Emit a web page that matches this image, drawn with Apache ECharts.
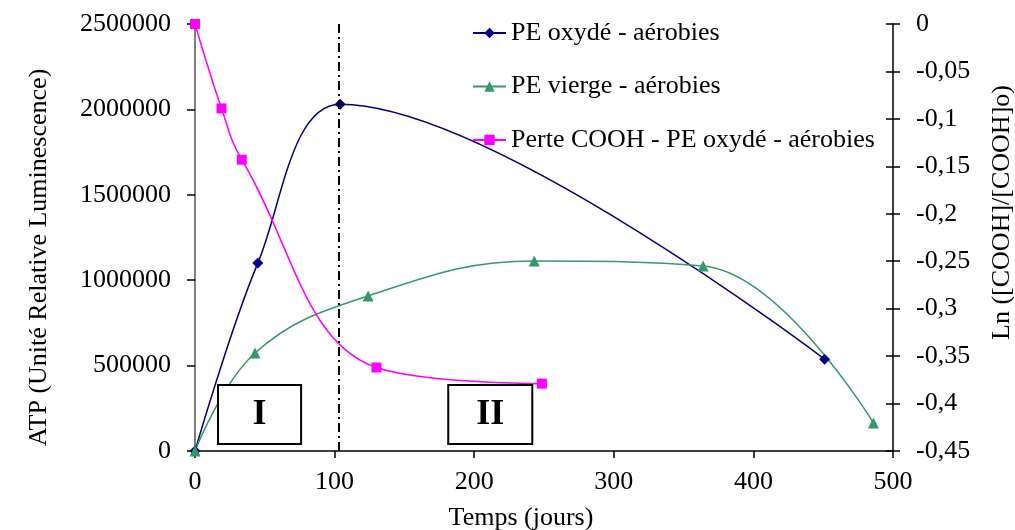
<!DOCTYPE html>
<html>
<head>
<meta charset="utf-8">
<script src="https://cdn.jsdelivr.net/npm/echarts@6/dist/echarts.min.js"></script>
<style>
html,body{margin:0;padding:0;background:#fff;overflow:hidden;width:1015px;height:530px;}
#c{width:1015px;height:530px;}
</style>
</head>
<body>
<div id="c"></div>
<script>
// ---- data ----
var seriesNames = ['PE oxydé - aérobies', 'PE vierge - aérobies', 'Perte COOH - PE oxydé - aérobies'];
var oxydeX = [0, 45, 104, 451];
var oxydeY = [0, 1100000, 2030000, 537000];
var viergeX = [0, 43, 124, 243, 364, 486];
var viergeY = [0, 574000, 908000, 1112000, 1083000, 164000];
var coohX = [0, 19, 33.5, 130, 248.5];
var coohY = [0, -0.089, -0.143, -0.362, -0.379];
var xTicks = [0, 100, 200, 300, 400, 500];
var leftTicks = [0, 500000, 1000000, 1500000, 2000000, 2500000];
var rightTicks = [-0.45, -0.4, -0.35, -0.3, -0.25, -0.2, -0.15, -0.1, -0.05, 0];
var phaseLineX = 103;
var phaseBoxes = [
  {label: 'I', x0: 16.5, x1: 76, y0: 41000, y1: 386000},
  {label: 'II', x0: 181.4, x1: 241.6, y0: 41000, y1: 386000}
];
var xName = 'Temps (jours)';
var leftName = 'ATP (Unité Relative Luminescence)';
var rightName = 'Ln ([COOH]/[COOH]o)';

function zip(xs, ys) { return xs.map(function (x, i) { return [x, ys[i]]; }); }

var FONT = '"Liberation Serif", "Times New Roman", serif';
var FS = 26;
var chart = echarts.init(document.getElementById('c'), null, {renderer: 'canvas', width: 1015, height: 530});

var option = {
  backgroundColor: '#fff',
  animation: false,
  textStyle: {fontFamily: FONT},
  grid: {left: 195, right: 122, top: 24, bottom: 79, containLabel: false, outerBoundsMode: 'none'},
  legend: {
    orient: 'vertical',
    left: 467, top: 15, padding: 5,
    itemWidth: 33, itemHeight: 13, itemGap: 27.5,
    textStyle: {fontFamily: FONT, fontSize: FS, color: '#000', lineHeight: 26},
    data: seriesNames
  },
  xAxis: {
    type: 'value', min: xTicks[0], max: xTicks[xTicks.length - 1], interval: xTicks[1] - xTicks[0],
    name: xName, nameLocation: 'middle', nameGap: 54,
    nameTextStyle: {fontFamily: FONT, fontSize: FS, color: '#000', padding: [0, 46, 0, 0]},
    axisLine: {onZero: false, lineStyle: {color: '#000', width: 1.5}},
    axisTick: {length: 7, lineStyle: {color: '#000', width: 1.5}},
    axisLabel: {fontFamily: FONT, fontSize: FS, color: '#000', margin: 18},
    splitLine: {show: false}
  },
  yAxis: [
    {
      type: 'value', position: 'left', min: leftTicks[0], max: leftTicks[leftTicks.length - 1], interval: leftTicks[1] - leftTicks[0],
      name: leftName, nameLocation: 'middle', nameGap: 143, nameRotate: 90,
      nameTextStyle: {fontFamily: FONT, fontSize: FS, color: '#000', padding: [0, 40, 0, 0]},
      axisLine: {show: true, lineStyle: {color: '#555', width: 1.5}},
      axisTick: {show: true, length: 8, lineStyle: {color: '#000', width: 1.5}},
      axisLabel: {fontFamily: FONT, fontSize: FS, color: '#000', margin: 24,
        formatter: function (v) { return String(v); }},
      splitLine: {show: false}
    },
    {
      type: 'value', position: 'right', min: rightTicks[0], max: rightTicks[rightTicks.length - 1], interval: 0.05,
      name: rightName, nameLocation: 'middle', nameGap: 96, nameRotate: 90,
      nameTextStyle: {fontFamily: FONT, fontSize: FS, color: '#000', padding: [0, 0, 0, 50]},
      axisLine: {show: true, lineStyle: {color: '#000', width: 1.5}},
      axisTick: {show: true, length: 7, lineStyle: {color: '#000', width: 1.5}},
      axisLabel: {fontFamily: FONT, fontSize: FS, color: '#000', margin: 23,
        formatter: function (v) { var r = Math.round(v * 100) / 100; return r === 0 ? '0' : String(r).replace('.', ','); }},
      splitLine: {show: false}
    },
    {
      type: 'value', position: 'right', min: rightTicks[0], max: rightTicks[rightTicks.length - 1], interval: 0.05,
      axisLine: {show: false},
      axisTick: {show: true, inside: true, length: 7, lineStyle: {color: '#000', width: 1.5}},
      axisLabel: {show: false},
      splitLine: {show: false}
    }
  ],
  series: [
    {
      name: seriesNames[0], type: 'line', yAxisIndex: 0, smooth: 0.35,
      data: zip(oxydeX, oxydeY),
      symbol: 'diamond', symbolSize: 11,
      lineStyle: {color: '#000080', width: 1.5},
      itemStyle: {color: '#000080'},
      markLine: {
        silent: true, symbol: 'none', label: {show: false},
        lineStyle: {color: '#000', width: 2, type: [9, 4, 2, 4]},
        data: [{xAxis: phaseLineX}]
      }
    },
    {
      name: seriesNames[1], type: 'line', yAxisIndex: 0, smooth: 0.4,
      data: zip(viergeX, viergeY),
      symbol: 'triangle', symbolSize: 11,
      lineStyle: {color: '#339966', width: 1.5},
      itemStyle: {color: '#339966'}
    },
    {
      name: seriesNames[2], type: 'line', yAxisIndex: 1, smooth: 0.4,
      data: zip(coohX, coohY),
      symbol: 'rect', symbolSize: 10,
      lineStyle: {color: '#FF00FF', width: 1.5},
      itemStyle: {color: '#FF00FF'}
    }
  ]
};
chart.setOption(option);

// annotation boxes placed from data coordinates
var g = [];
phaseBoxes.forEach(function (b) {
  var p0 = chart.convertToPixel({xAxisIndex: 0, yAxisIndex: 0}, [b.x0, b.y1]);
  var p1 = chart.convertToPixel({xAxisIndex: 0, yAxisIndex: 0}, [b.x1, b.y0]);
  g.push({
    type: 'rect', z: 100,
    shape: {x: p0[0], y: p0[1], width: p1[0] - p0[0], height: p1[1] - p0[1]},
    style: {fill: '#fff', stroke: '#000', lineWidth: 2}
  });
  g.push({
    type: 'text', z: 101,
    x: (p0[0] + p1[0]) / 2, y: (p0[1] + p1[1]) / 2,
    style: {text: b.label, fontFamily: FONT, fontSize: 36, fontWeight: 'bold', fill: '#000', align: 'center', verticalAlign: 'middle'}
  });
});
chart.setOption({graphic: g});
</script>
</body>
</html>
